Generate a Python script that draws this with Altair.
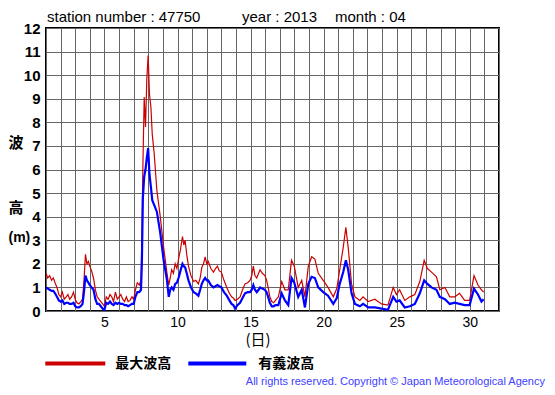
import altair as alt
import pandas as pd

# time in days of April 2013 (1.0 = 1 April 00:00)
days = [
    1.0, 1.12, 1.25, 1.38, 1.5, 1.62, 1.75, 1.88, 2.0, 2.12, 2.25, 2.38, 2.5, 2.62, 2.75, 2.88,
    3.0, 3.12, 3.25, 3.38, 3.5, 3.6, 3.7, 3.8, 3.9, 4.0, 4.12, 4.25, 4.38, 4.5, 4.62, 4.75, 4.88,
    5.0, 5.12, 5.25, 5.38, 5.5, 5.62, 5.75, 5.88, 6.0, 6.12, 6.25, 6.38, 6.5, 6.62, 6.75, 6.88,
    7.0, 7.12, 7.25, 7.38, 7.5, 7.56, 7.63, 7.72, 7.81, 7.9, 7.99, 8.08, 8.18, 8.27, 8.4, 8.59,
    8.82, 9.05, 9.28, 9.4, 9.5, 9.6, 9.72, 9.84, 9.96, 10.07, 10.2, 10.34, 10.43, 10.52, 10.63,
    10.75, 10.92, 11.1, 11.25, 11.43, 11.55, 11.66, 11.78, 11.89, 12.0, 12.1, 12.28, 12.46, 12.6,
    12.73, 12.86, 13.0, 13.18, 13.37, 13.55, 13.7, 13.82, 13.94, 14.1, 14.28, 14.45, 14.62, 14.8,
    14.96, 15.08, 15.19, 15.3, 15.42, 15.55, 15.65, 15.8, 15.98, 16.1, 16.2, 16.32, 16.45, 16.58,
    16.7, 16.9, 17.13, 17.35, 17.58, 17.8, 17.99, 18.26, 18.5, 18.72, 18.95, 19.18, 19.4, 19.63,
    19.97, 20.3, 20.66, 20.9, 21.1, 21.34, 21.52, 21.68, 21.91, 22.14, 22.48, 22.7, 23.05, 23.5,
    23.96, 24.4, 24.76, 24.98, 25.2, 25.55, 25.9, 26.24, 26.58, 26.88, 27.1, 27.38, 27.72, 27.95,
    28.3, 28.63, 28.97, 29.3, 29.65, 29.99, 30.29, 30.56, 30.8, 30.95,
]

# 最大波高 (maximum wave height, m)
max_height = [
    1.6, 1.4, 1.5, 1.3, 1.4, 1.2, 1.0, 0.7, 0.6, 0.8, 0.5, 0.6, 0.7, 0.5, 0.6, 0.8,
    0.5, 0.35, 0.3, 0.4, 0.5, 1.3, 2.4, 2.0, 2.1, 1.9, 1.7, 1.4, 0.9, 0.6, 0.5, 0.4, 0.3,
    0.2, 0.6, 0.5, 0.7, 0.6, 0.4, 0.8, 0.5, 0.6, 0.7, 0.5, 0.4, 0.6, 0.4, 0.45, 0.6,
    0.5, 0.9, 1.2, 1.1, 1.3, 3.0, 6.1, 9.07, 7.8, 9.85, 10.83, 9.2, 8.64, 7.5, 6.7, 5.1,
    4.0, 2.7, 1.6, 1.1, 1.4, 1.75, 1.6, 2.0, 1.8, 2.2, 2.6, 3.15, 2.8, 3.0, 2.4,
    1.9, 1.5, 1.25, 1.3, 1.15, 1.4, 1.85, 2.0, 2.3, 2.0, 2.1, 1.8, 1.65, 1.8,
    1.9, 1.7, 1.65, 1.3, 1.0, 0.75, 0.6, 0.55, 0.45, 0.5, 0.6, 0.9, 1.15, 1.2,
    1.3, 1.5, 1.9, 1.5, 1.4, 1.6, 1.75, 1.6, 1.5, 1.3, 1.0, 0.6, 0.4, 0.35,
    0.45, 0.6, 1.25, 0.9, 0.9, 2.15, 1.9, 1.0, 1.3, 0.6, 1.9, 2.3, 2.2, 1.6,
    1.3, 1.0, 0.6, 0.95, 1.75, 2.7, 3.55, 2.7, 1.15, 0.6, 0.45, 0.6, 0.4, 0.5,
    0.3, 0.25, 1.0, 0.7, 0.9, 0.45, 0.6, 0.7, 1.25, 2.15, 1.8, 1.65, 1.45, 0.9,
    1.0, 0.6, 0.6, 0.75, 0.45, 0.45, 1.5, 1.1, 0.9, 0.8,
]

# 有義波高 (significant wave height, m)
sig_height = [
    1.0, 0.95, 0.9, 0.85, 0.85, 0.75, 0.6, 0.45, 0.4, 0.45, 0.3, 0.35, 0.35, 0.3, 0.3, 0.35,
    0.2, 0.15, 0.15, 0.2, 0.3, 0.8, 1.5, 1.3, 1.2, 1.1, 1.0, 0.9, 0.5, 0.3, 0.3, 0.2, 0.1,
    0.05, 0.35, 0.3, 0.4, 0.3, 0.25, 0.35, 0.3, 0.35, 0.3, 0.3, 0.25, 0.25, 0.2, 0.25, 0.3,
    0.3, 0.6, 0.8, 0.8, 0.9, 2.0, 4.8, 5.7, 6.0, 6.5, 6.9, 5.8, 5.25, 4.7, 4.5, 4.2,
    3.3, 2.15, 1.3, 0.6, 0.9, 1.0, 0.9, 1.15, 1.2, 1.4, 1.7, 2.0, 1.9, 1.85, 1.6,
    1.3, 1.0, 0.8, 0.75, 0.65, 0.9, 1.15, 1.3, 1.4, 1.3, 1.3, 1.1, 1.0, 1.05,
    1.1, 1.05, 1.0, 0.8, 0.65, 0.45, 0.3, 0.25, 0.1, 0.25, 0.35, 0.55, 0.75, 0.8,
    0.8, 0.9, 1.1, 0.9, 0.8, 0.9, 1.0, 0.95, 0.9, 0.8, 0.6, 0.35, 0.2, 0.2,
    0.25, 0.25, 0.75, 0.45, 0.25, 1.4, 1.2, 0.6, 0.9, 0.15, 1.15, 1.45, 1.4, 1.0,
    0.8, 0.65, 0.3, 0.55, 1.15, 1.65, 2.15, 1.75, 0.75, 0.3, 0.2, 0.3, 0.15, 0.15,
    0.1, 0.05, 0.6, 0.4, 0.45, 0.15, 0.2, 0.3, 0.75, 1.3, 1.15, 1.0, 0.9, 0.6,
    0.5, 0.3, 0.35, 0.3, 0.25, 0.25, 0.95, 0.7, 0.4, 0.5,
]

series_names = ["最大波高", "有義波高"]
series_colors = ["#cc0000", "#0000ff"]
series_widths = [1.2, 2.2]

x_gridlines = list(range(1, 33))
y_gridlines = list(range(0, 13))

rows = []
for name, vals in zip(series_names, [max_height, sig_height]):
    for d, v in zip(days, vals):
        rows.append({"day": d, "height": v, "series": name})
df = pd.DataFrame(rows)

W, H = 453, 283

lines = alt.Chart(df).mark_line(interpolate="linear").encode(
    x=alt.X("day:Q",
            scale=alt.Scale(domain=[1, 32], nice=False, zero=False),
            axis=alt.Axis(values=x_gridlines, title=None, ticks=False, grid=True,
                          labelExpr="datum.value % 5 == 0 ? datum.label : ''",
                          labelFont="Liberation Sans", labelFontSize=14,
                          labelColor="black", labelPadding=4, gridColor="#666666",
                          gridWidth=1, domain=False, labelFlush=False)),
    y=alt.Y("height:Q",
            scale=alt.Scale(domain=[0, 12], nice=False),
            axis=alt.Axis(values=y_gridlines, title=None, ticks=False, grid=True,
                          labelFont="Liberation Sans", labelFontSize=15,
                          labelFontWeight="bold", labelColor="black", labelPadding=6,
                          gridColor="#666666", gridWidth=1, domain=False)),
    color=alt.Color("series:N",
                    scale=alt.Scale(domain=series_names, range=series_colors),
                    sort=series_names, legend=None),
    strokeWidth=alt.StrokeWidth("series:N",
                                scale=alt.Scale(domain=series_names, range=series_widths),
                                legend=None),
    order=alt.Order("day:Q"),
)

def label(text, x, y, size=14, weight="normal", align="left", font="Liberation Sans",
          color="black", baseline="alphabetic"):
    return alt.Chart(pd.DataFrame({"t": [text]})).mark_text(
        align=align, baseline=baseline, fontSize=size, fontWeight=weight,
        font=font, color=color
    ).encode(text="t:N", x=alt.value(x), y=alt.value(y))

def legend_stroke(x0, x1, y, color):
    return alt.Chart(pd.DataFrame({"k": [0]})).mark_rule(
        strokeWidth=4, color=color
    ).encode(x=alt.value(x0), x2=alt.value(x1), y=alt.value(y))

legend_y = 335.5
legend = [
    legend_stroke(-0.7, 59.3, legend_y, series_colors[0]),
    label(series_names[0], 69.3, legend_y, size=14, weight="bold",
          font="Noto Sans CJK JP", baseline="middle"),
    legend_stroke(142.3, 200.3, legend_y, series_colors[1]),
    label(series_names[1], 212.3, legend_y, size=14, weight="bold",
          font="Noto Sans CJK JP", baseline="middle"),
]

texts = [
    label("station number : 47750", 1, -6, size=15),
    label("year : 2013", 196, -6, size=15),
    label("month : 04", 289, -6, size=15),
    label("波", -30, 115, size=15, weight="bold", align="center",
          font="Noto Sans CJK JP", baseline="middle"),
    label("高", -30, 179.5, size=15, weight="bold", align="center",
          font="Noto Sans CJK JP", baseline="middle"),
    label("(m)", -37.5, 210, size=14, weight="bold", align="left",
          font="Liberation Sans", baseline="middle"),
    label("(日)", 212, 312, size=15, align="center",
          font="Noto Sans CJK JP", baseline="middle"),
    label("All rights reserved. Copyright © Japan Meteorological Agency", 499, 354,
          size=11, align="right", color="#4040ff", baseline="middle"),
]

chart = alt.layer(lines, *legend, *texts).properties(
    width=W, height=H,
    padding={"left": 38, "top": 20, "right": 47, "bottom": 76},
    autosize=alt.AutoSizeParams(type="none"),
).configure_view(stroke="black", strokeWidth=2)

chart.save("out.html", embed_options={"renderer": "svg", "actions": False})
